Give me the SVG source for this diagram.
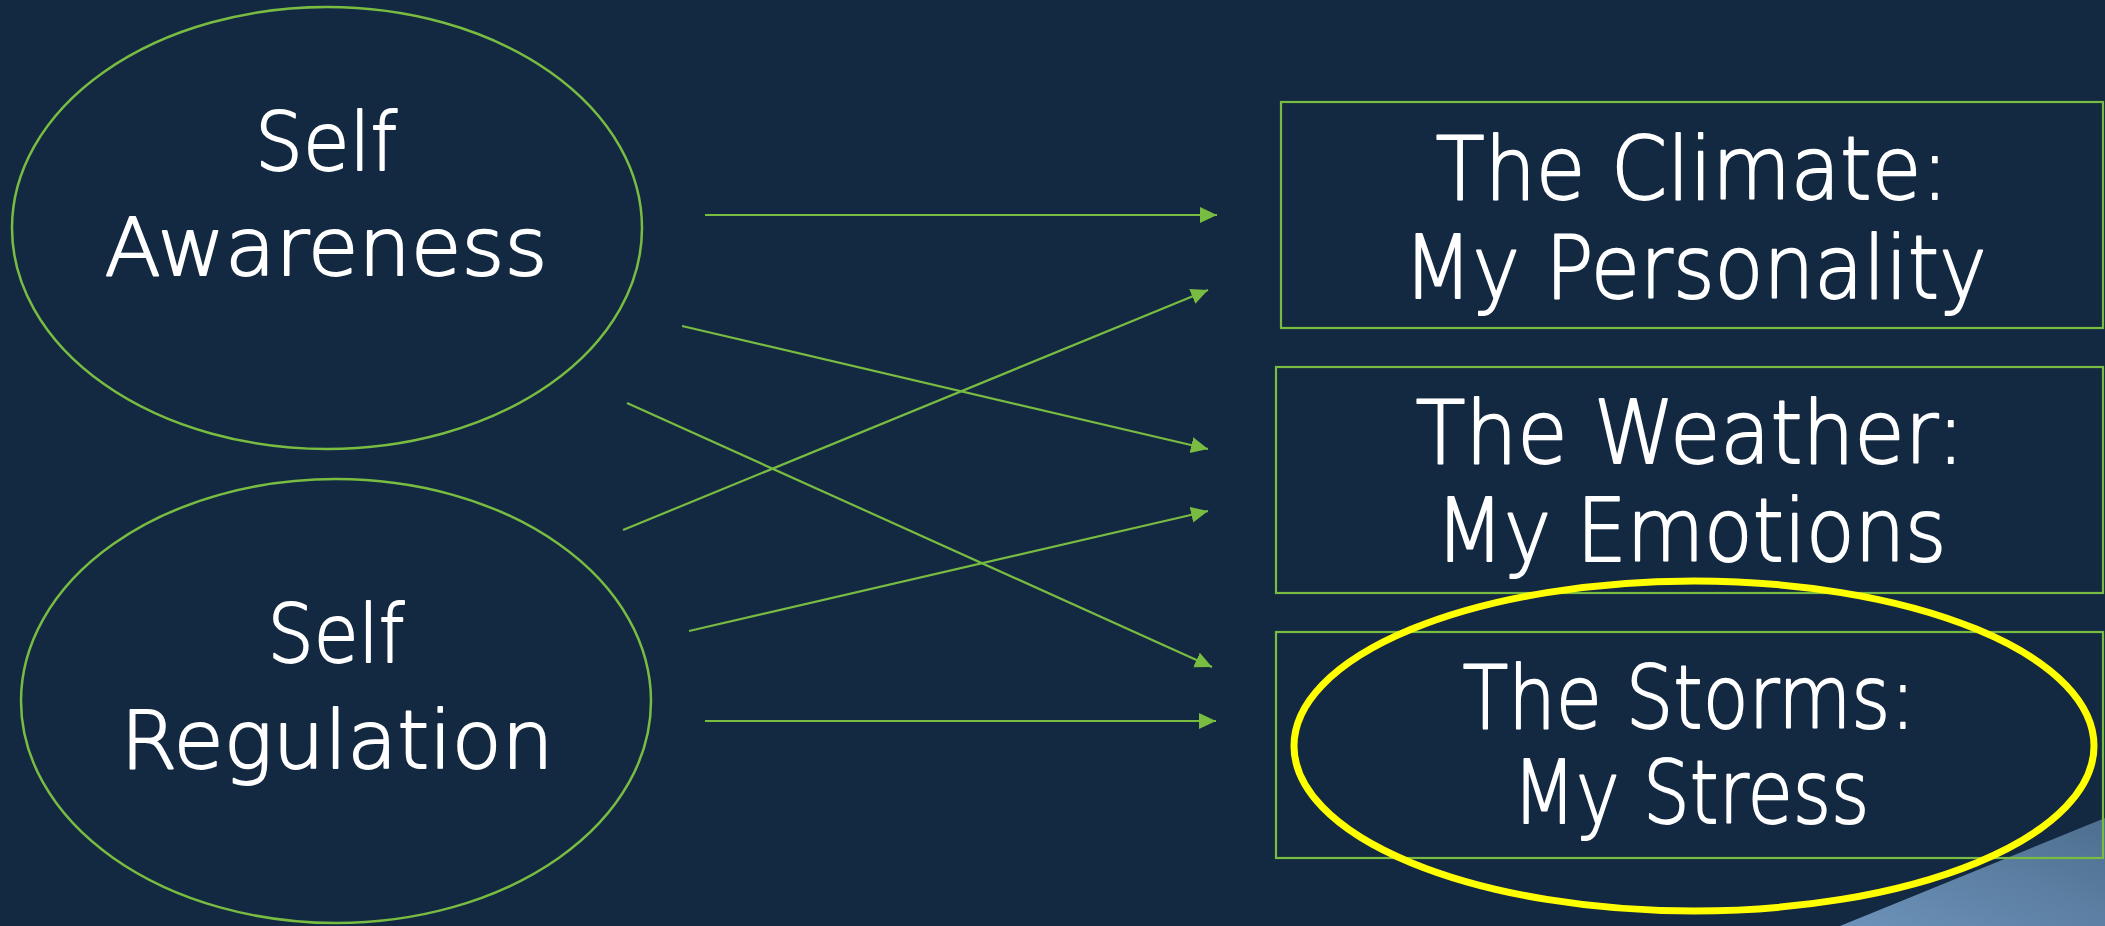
<svg xmlns="http://www.w3.org/2000/svg" width="2105" height="926" viewBox="0 0 2105 926">
  <style>
    .oval { fill: none; stroke: #78bc42; stroke-width: 2.5; }
    .box { fill: none; stroke: #78bc42; stroke-width: 2.2; }
    .link { stroke: #78bc42; stroke-width: 2.2; fill: none; marker-end: url(#arrow); }
    .label { font-family: "DejaVu Sans", "Liberation Sans", sans-serif; font-weight: 200; fill: #ffffff; stroke: #ffffff; stroke-width: 1.8; stroke-linejoin: round; text-anchor: middle; }
    .left { font-size: 81px; }
    .right { font-size: 88px; }
    .focus { fill: none; stroke: #ffff00; stroke-width: 7; }
  </style>
  <defs>
    <marker id="arrow" markerUnits="userSpaceOnUse" markerWidth="18" markerHeight="17" refX="17" refY="8" orient="auto">
      <path d="M0,0 L17,8 L0,16 z" fill="#78bc42"/>
    </marker>
    <linearGradient id="corner" x1="1" y1="0" x2="0" y2="1">
      <stop offset="0" stop-color="#4d6e8e"/>
      <stop offset="1" stop-color="#6d93ba"/>
    </linearGradient>
  </defs>

  <!-- background -->
  <rect x="0" y="0" width="2105" height="926" fill="#132941"/>
  <!-- decorative corner band -->
  <polygon points="1840,926 2105,818 2105,926" fill="url(#corner)"/>

  <g id="self-awareness">
    <ellipse class="oval" cx="327" cy="228" rx="315" ry="221"/>
    <text class="label left" x="326" y="170" textLength="142" lengthAdjust="spacingAndGlyphs">Self</text>
    <text class="label left" x="326" y="275" textLength="443" lengthAdjust="spacingAndGlyphs">Awareness</text>
  </g>

  <g id="self-regulation">
    <ellipse class="oval" cx="336" cy="701" rx="315" ry="222"/>
    <text class="label left" x="336" y="662" textLength="137" lengthAdjust="spacingAndGlyphs">Self</text>
    <text class="label left" x="337" y="768" textLength="433" lengthAdjust="spacingAndGlyphs">Regulation</text>
  </g>

  <g id="climate">
    <rect class="box" x="1281" y="102" width="822" height="226"/>
    <text class="label right" x="1692" y="199" textLength="513" lengthAdjust="spacingAndGlyphs">The Climate:</text>
    <text class="label right" x="1695" y="298" textLength="583" lengthAdjust="spacingAndGlyphs">My Personality</text>
  </g>

  <g id="weather">
    <rect class="box" x="1276" y="367" width="827" height="226"/>
    <text class="label right" x="1690" y="463" textLength="549" lengthAdjust="spacingAndGlyphs">The Weather:</text>
    <text class="label right" x="1691" y="561" textLength="511" lengthAdjust="spacingAndGlyphs">My Emotions</text>
  </g>

  <g id="storms">
    <rect class="box" x="1276" y="632" width="827" height="226"/>
    <text class="label right" x="1689" y="728" textLength="453" lengthAdjust="spacingAndGlyphs">The Storms:</text>
    <text class="label right" x="1691" y="823" textLength="357" lengthAdjust="spacingAndGlyphs">My Stress</text>
  </g>

  <g id="connectors">
    <line class="link" x1="705" y1="215" x2="1217" y2="215"/>
    <line class="link" x1="682" y1="326" x2="1208" y2="449"/>
    <line class="link" x1="627" y1="403" x2="1212" y2="667"/>
    <line class="link" x1="623" y1="530" x2="1208" y2="290"/>
    <line class="link" x1="689" y1="631" x2="1208" y2="511"/>
    <line class="link" x1="705" y1="721" x2="1216" y2="721"/>
  </g>

  <g id="highlight">
    <ellipse class="focus" cx="1694" cy="746" rx="400" ry="165"/>
  </g>
</svg>
